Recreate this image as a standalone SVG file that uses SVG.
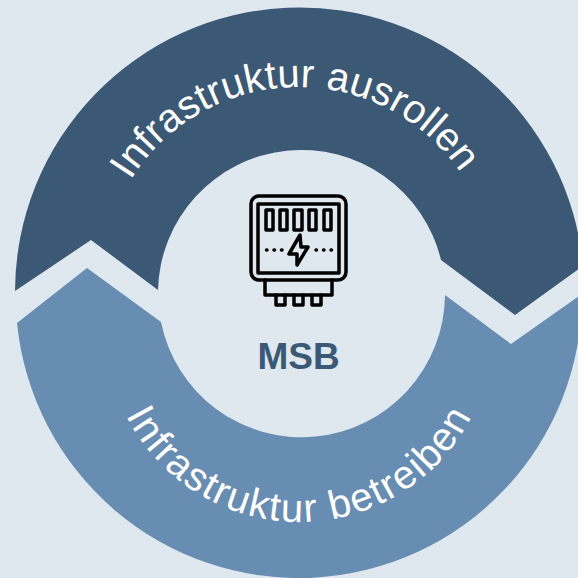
<svg xmlns="http://www.w3.org/2000/svg" width="578" height="578" viewBox="0 0 578 578">
<style>
.lbl{font-family:"Liberation Sans",Arial,sans-serif;font-size:40px;fill:#fff}
.ic{fill:none;stroke:#000;stroke-width:3.5;stroke-linejoin:round;stroke-linecap:round}
</style>
<defs>
<path id="arcTop" d="M 101 284 A 197 197 0 0 1 495 284"/>
<path id="arcBot" d="M 105 328 A 194 194 0 0 0 493 328"/>
</defs>
<rect width="578" height="578" fill="#dfe7ef"/>
<g id="connectors">
<path id="seg-top" fill="#3b5975" d="M15 291 L91 240 L158 290 A143.500 143.500 0 0 1 441 260 L515 315 L583 266 A284.600 284.600 0 0 0 15 291 Z"/>
<path id="seg-bot" fill="#688db2" d="M17 323 L87 268 L161 322 A143.400 143.400 0 0 0 445 295 L511 344 L582 294 A283.200 283.200 0 0 1 17 323 Z"/>
</g>
<g id="label-top"><text class="lbl" letter-spacing="0.200"><textPath href="#arcTop" startOffset="305" text-anchor="middle">Infrastruktur ausrollen</textPath></text></g>
<g id="label-bot"><text class="lbl" letter-spacing="1.600"><textPath href="#arcBot" startOffset="50%" text-anchor="middle">Infrastruktur betreiben</textPath></text></g>
<g id="meter" class="ic">
<rect x="251" y="196" width="95" height="84" rx="8"/>
<rect x="258" y="204" width="81" height="69"/>
<rect x="266" y="210" width="7" height="20"/><rect x="280" y="210" width="7" height="20"/><rect x="294" y="210" width="8" height="20"/><rect x="309" y="210" width="7" height="20"/><rect x="324" y="210" width="7" height="20"/>
<path d="M266.500 250h.5M274 250h.5M281.500 250h.5M316 250h.5M323.500 250h.5M331 250h.5"/>
<path d="M300 235 L289 254 L297 254 L297 265 L308 247 L301 247 Z"/>
<path d="M265 280 V295 H332 V280"/>
<path d="M276 295 V305 H285 V295M294 295 V305 H303 V295M312 295 V305 H321 V295"/>
</g>
<g id="msb"><text x="298.500" y="369" text-anchor="middle" font-family="Liberation Sans, Arial, sans-serif" font-weight="700" font-size="37" fill="#3b5975">MSB</text></g>
</svg>
